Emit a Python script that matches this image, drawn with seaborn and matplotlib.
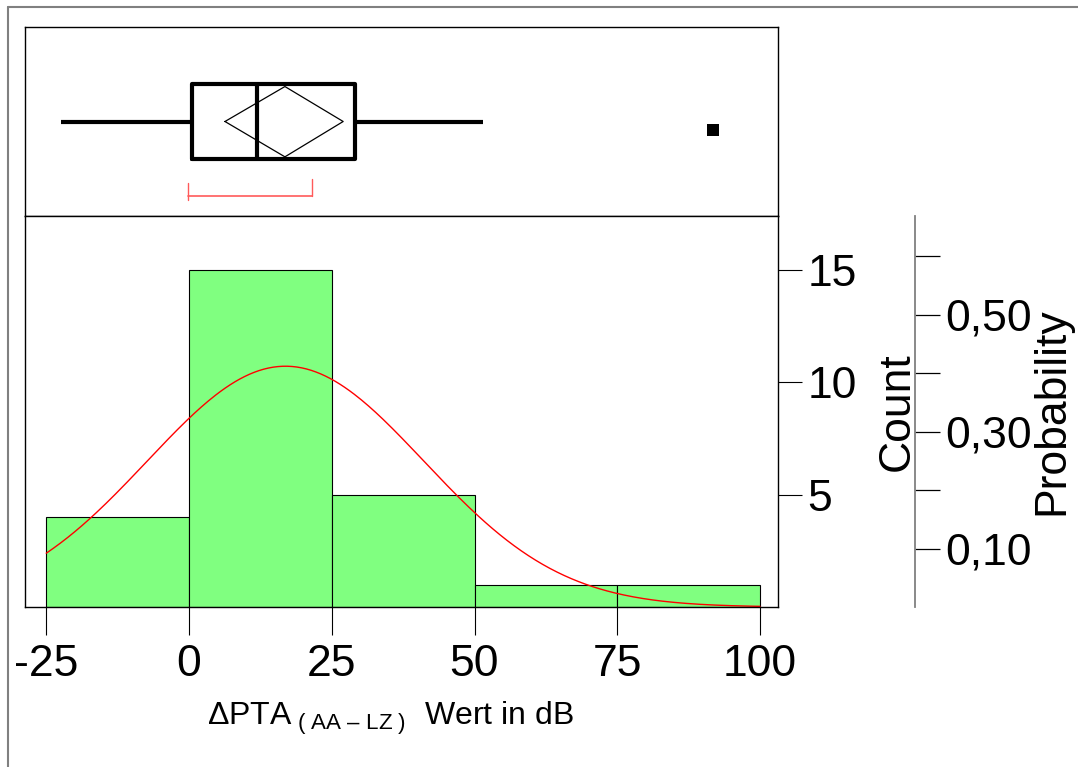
import numpy as np
import pandas as pd
import matplotlib
matplotlib.use('Agg')
import matplotlib.pyplot as plt
import seaborn as sns
from matplotlib.lines import Line2D

# ---------------- data ----------------
bin_edges = [-25, 0, 25, 50, 75, 100]
bin_counts = [4, 15, 5, 1, 1]
n_total = sum(bin_counts)

box_q1 = 0.5
box_median = 11.9
box_q3 = 29.1
whisker_low = -22.4
whisker_high = 51.5
outliers = [91.8]
mean_value = 16.8
mean_ci = [6.3, 27.0]
shortest_half = [-0.2, 21.5]
normal_mean = 16.9
normal_sd = 24.2

x_ticks = [-25, 0, 25, 50, 75, 100]
x_tick_labels = ['-25', '0', '25', '50', '75', '100']
count_ticks = [5, 10, 15]
prob_ticks = [0.1, 0.2, 0.3, 0.4, 0.5, 0.6]
prob_labels = ['0,10', '', '0,30', '', '0,50', '']

# ---------------- style ----------------
sns.set_style('white')
plt.rcParams['font.family'] = ['Liberation Sans', 'DejaVu Sans']
plt.rcParams['mathtext.fontset'] = 'custom'
plt.rcParams['mathtext.rm'] = 'Liberation Sans'
plt.rcParams['mathtext.it'] = 'Liberation Sans:italic'
plt.rcParams['mathtext.bf'] = 'Liberation Sans:bold'
plt.rcParams['mathtext.default'] = 'regular'
plt.rcParams['axes.unicode_minus'] = False
for k in ['text.color', 'axes.labelcolor', 'xtick.color', 'ytick.color']:
    plt.rcParams[k] = 'black'

W, H = 1078, 767
fig = plt.figure(figsize=(W / 100, H / 100), dpi=100)
fig.patch.set_facecolor('white')

L, R = 25 / W, 778 / W
ax_box = fig.add_axes([L, 1 - 216 / H, R - L, (216 - 27) / H])
ax = fig.add_axes([L, 1 - 607 / H, R - L, (607 - 216) / H])

xlim = (-28.72, 103.15)
ylim_count = (0, 17.4)

# ---------------- histogram ----------------
edges = np.array(bin_edges, dtype=float)
centers = (edges[:-1] + edges[1:]) / 2
df = pd.DataFrame({'x': centers, 'w': bin_counts})
sns.histplot(data=df, x='x', weights='w', bins=bin_edges, stat='count',
             color='#80FF80', alpha=1, edgecolor='black', linewidth=0.8, ax=ax)

binw = edges[1] - edges[0]
xs = np.linspace(edges[0], edges[-1], 300)
ys = n_total * binw * np.exp(-0.5 * ((xs - normal_mean) / normal_sd) ** 2) / (normal_sd * np.sqrt(2 * np.pi))
sns.lineplot(x=xs, y=ys, color='red', linewidth=1.0, ax=ax)

ax.set_xlim(*xlim)
ax.set_ylim(*ylim_count)
for s in ax.spines.values():
    s.set_visible(True)
    s.set_color('black')
    s.set_linewidth(1.0)

ax.set_xticks(x_ticks)
ax.set_xticklabels(x_tick_labels)
ax.tick_params(axis='x', bottom=True, direction='out', length=20, width=0.8,
               color='black', labelsize=32, pad=7)

ax.set_xlabel('ΔPTA' + r'$_{\ (\ AA\ –\ LZ\ )}$  Wert in dB', fontsize=23)
ax.xaxis.set_label_coords(0.4854, (607 - 718) / 391)
ax.xaxis.label.set_va('center')

# ---------------- probability axis ----------------
ax2 = ax.twinx()
ax2.set_ylim(ylim_count[0] / n_total, ylim_count[1] / n_total)
for k in ['left', 'top', 'bottom']:
    ax2.spines[k].set_visible(False)
ax2.spines['right'].set_position(('axes', (915 - 25) / 753))
ax2.spines['right'].set_color('#808080')
ax2.spines['right'].set_linewidth(1.3)
ax2.set_yticks(prob_ticks)
ax2.set_yticklabels(prob_labels)
ax2.tick_params(axis='y', right=True, direction='out', length=18, width=0.9,
                labelsize=32, pad=4)
for t, lab in zip(ax2.yaxis.get_major_ticks(), prob_labels):
    t.tick2line.set_color('#808080' if lab else 'black')
ax2.set_ylabel('Probability', fontsize=32)
ax2.yaxis.set_label_coords(1.364, 0.5)
ax2.yaxis.label.set_rotation(90)
ax2.yaxis.label.set_rotation_mode('anchor')
ax2.yaxis.label.set_ha('center')
ax2.yaxis.label.set_va('center')

# count axis on the right (after twinx, which moves ticks left)
ax.yaxis.tick_right()
ax.set_yticks(count_ticks)
ax.tick_params(axis='y', left=False, labelleft=False, right=True, labelright=True,
               direction='out', length=17, width=0.8, color='black', labelsize=32, pad=4)
ax.set_ylabel('Count', fontsize=32)
ax.yaxis.set_label_position('right')
ax.yaxis.set_label_coords(1.158, 0.5)
ax.yaxis.label.set_rotation(90)
ax.yaxis.label.set_rotation_mode('anchor')
ax.yaxis.label.set_ha('center')
ax.yaxis.label.set_va('center')

# ---------------- box plot panel ----------------
ax_box.set_xlim(*xlim)
ax_box.set_ylim(0, 1)
ax_box.set_xticks([])
ax_box.set_yticks([])
for s in ax_box.spines.values():
    s.set_visible(True)
    s.set_color('black')
    s.set_linewidth(1.0)

stats = [dict(med=box_median, q1=box_q1, q3=box_q3,
              whislo=whisker_low, whishi=whisker_high, fliers=[])]
bkw = dict(positions=[0.5], widths=0.397, showfliers=False, showcaps=False,
           boxprops=dict(linewidth=3, color='black'),
           whiskerprops=dict(linewidth=3, color='black', solid_capstyle='butt'),
           medianprops=dict(linewidth=3, color='black'),
           manage_ticks=False)
try:
    ax_box.bxp(stats, orientation='horizontal', **bkw)
except TypeError:
    ax_box.bxp(stats, vert=False, **bkw)

ax_box.plot(outliers, [0.455] * len(outliers), linestyle='none', marker='s',
            markersize=8.3, markeredgewidth=0, color='black')

ax_box.plot([mean_ci[0], mean_value, mean_ci[1], mean_value, mean_ci[0]],
            [0.5, 0.685, 0.5, 0.313, 0.5], color='black', linewidth=0.9)

red = '#ff5a5a'
ax_box.plot(shortest_half, [0.106, 0.106], color=red, linewidth=1.2)
ax_box.plot([shortest_half[0]] * 2, [0.085, 0.175], color=red, linewidth=1.0)
ax_box.plot([shortest_half[1]] * 2, [0.106, 0.196], color=red, linewidth=1.0)

# ---------------- outer frame ----------------
fig.add_artist(Line2D([8 / W, 1], [1 - 7 / H, 1 - 7 / H], transform=fig.transFigure,
                      color='#808080', linewidth=1.5))
fig.add_artist(Line2D([8 / W, 8 / W], [0, 1 - 7 / H], transform=fig.transFigure,
                      color='#808080', linewidth=1.5))

fig.savefig('out.png', dpi=100, facecolor='white')
